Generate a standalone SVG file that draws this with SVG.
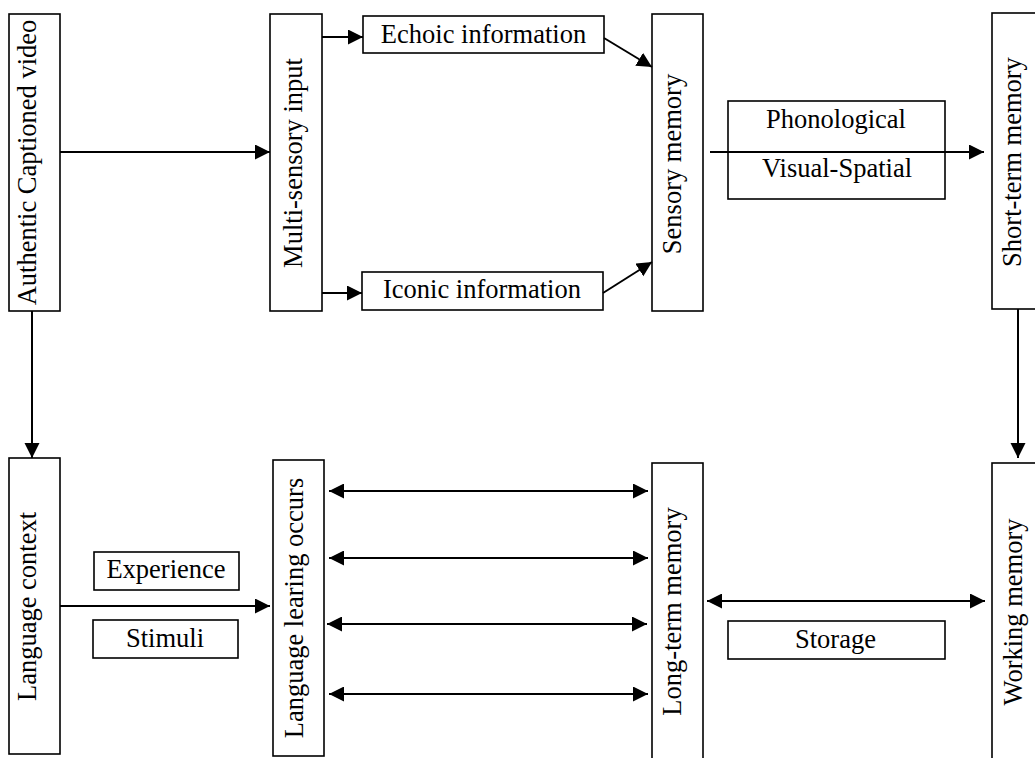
<svg xmlns="http://www.w3.org/2000/svg" width="1035" height="758" viewBox="0 0 1035 758">
  <style>
    .box { fill: #ffffff; stroke: #000000; stroke-width: 1.6; }
    .lbl { font-family: "Liberation Serif", "Times New Roman", serif; font-size: 26.5px; fill: #000000; text-anchor: middle; }
    .edge { stroke: #000000; stroke-width: 2; fill: none; }
    .one { marker-end: url(#head); }
    .two { marker-start: url(#tail); marker-end: url(#head); }
  </style>
  <defs>
    <marker id="head" markerUnits="userSpaceOnUse" markerWidth="17" markerHeight="16" refX="15" refY="7.5" orient="auto">
      <path d="M0,0 L15,7.5 L0,15 z" fill="#000000"/>
    </marker>
    <marker id="tail" markerUnits="userSpaceOnUse" markerWidth="17" markerHeight="16" refX="0" refY="7.5" orient="auto">
      <path d="M15,0 L0,7.5 L15,15 z" fill="#000000"/>
    </marker>
  </defs>
  <rect width="1035" height="758" fill="#ffffff"/>

  <!-- top row -->
  <g id="authentic-captioned-video">
    <rect class="box" x="9" y="14" width="51" height="297"/>
    <text class="lbl" transform="translate(36,162.5) rotate(-90)">Authentic Captioned video</text>
  </g>
  <g id="multi-sensory-input">
    <rect class="box" x="270" y="14" width="52" height="297"/>
    <text class="lbl" transform="translate(302,163) rotate(-90)">Multi-sensory input</text>
  </g>
  <g id="echoic-information">
    <rect class="box" x="363" y="16" width="241" height="37"/>
    <text class="lbl" x="483.5" y="43">Echoic information</text>
  </g>
  <g id="iconic-information">
    <rect class="box" x="362" y="272" width="241" height="38"/>
    <text class="lbl" x="482" y="298">Iconic information</text>
  </g>
  <g id="sensory-memory">
    <rect class="box" x="652" y="14" width="51" height="297"/>
    <text class="lbl" transform="translate(681,164) rotate(-90)">Sensory memory</text>
  </g>
  <g id="phonological-visual-spatial">
    <rect class="box" x="728" y="101" width="217" height="98"/>
    <text class="lbl" x="836" y="128">Phonological</text>
    <text class="lbl" x="837" y="177">Visual-Spatial</text>
  </g>
  <g id="short-term-memory">
    <rect class="box" x="992" y="13" width="51" height="296"/>
    <text class="lbl" transform="translate(1021,162) rotate(-90)">Short-term memory</text>
  </g>

  <!-- bottom row -->
  <g id="language-context">
    <rect class="box" x="9" y="458" width="51" height="296"/>
    <text class="lbl" transform="translate(36,606.5) rotate(-90)">Language context</text>
  </g>
  <g id="experience">
    <rect class="box" x="94" y="552" width="145" height="38"/>
    <text class="lbl" x="166" y="578">Experience</text>
  </g>
  <g id="stimuli">
    <rect class="box" x="93" y="620" width="145" height="38"/>
    <text class="lbl" x="165" y="647">Stimuli</text>
  </g>
  <g id="language-learing-occurs">
    <rect class="box" x="273" y="460" width="51" height="296"/>
    <text class="lbl" transform="translate(303,608) rotate(-90)">Language learing occurs</text>
  </g>
  <g id="long-term-memory">
    <rect class="box" x="652" y="463" width="51" height="297"/>
    <text class="lbl" transform="translate(681,611.5) rotate(-90)">Long-term memory</text>
  </g>
  <g id="storage">
    <rect class="box" x="728" y="621" width="217" height="38"/>
    <text class="lbl" x="835.5" y="648">Storage</text>
  </g>
  <g id="working-memory">
    <rect class="box" x="992" y="463" width="51" height="297"/>
    <text class="lbl" transform="translate(1022,612) rotate(-90)">Working memory</text>
  </g>

  <!-- connectors, drawn last so the sensory-to-short-term line runs across the label box -->
  <g id="connectors">
    <line class="edge one" x1="60" y1="152" x2="270" y2="152"/>
    <line class="edge one" x1="322" y1="37" x2="363" y2="37"/>
    <line class="edge one" x1="322" y1="293" x2="362" y2="293"/>
    <line class="edge one" x1="604" y1="38" x2="652" y2="67"/>
    <line class="edge one" x1="603" y1="293" x2="652" y2="262"/>
    <line class="edge one" x1="710" y1="152" x2="984" y2="152"/>
    <line class="edge one" x1="32" y1="311" x2="32" y2="458"/>
    <line class="edge one" x1="1018" y1="309" x2="1018" y2="458"/>
    <line class="edge one" x1="60" y1="606" x2="270" y2="606"/>
    <line class="edge two" x1="329" y1="491" x2="648" y2="491"/>
    <line class="edge two" x1="329" y1="558" x2="648" y2="558"/>
    <line class="edge two" x1="327" y1="624" x2="647" y2="624"/>
    <line class="edge two" x1="329" y1="694" x2="648" y2="694"/>
    <line class="edge two" x1="707" y1="601" x2="985" y2="601"/>
  </g>
</svg>
